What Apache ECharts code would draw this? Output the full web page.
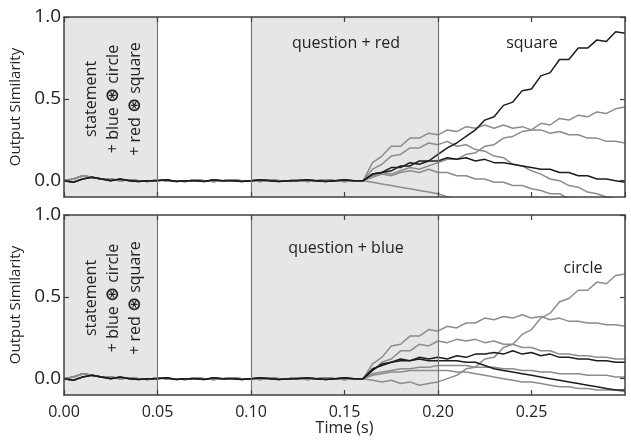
<!DOCTYPE html>
<html>
<head>
<meta charset="utf-8">
<script src="https://cdn.jsdelivr.net/npm/echarts@6/dist/echarts.min.js"></script>
<style>
  html, body { margin: 0; padding: 0; background: #fff; }
  #chart { width: 631px; height: 442px; }
</style>
</head>
<body>
<div id="chart"></div>
<script>
// time samples (s)
const times = [
  0.000, 0.005, 0.010, 0.015, 0.020, 0.025, 0.030, 0.035, 0.040, 0.045,
  0.050, 0.055, 0.060, 0.065, 0.070, 0.075, 0.080, 0.085, 0.090, 0.095,
  0.100, 0.105, 0.110, 0.115, 0.120, 0.125, 0.130, 0.135, 0.140, 0.145,
  0.150, 0.155,
  0.160, 0.165, 0.170, 0.175, 0.180, 0.185, 0.190, 0.195, 0.200, 0.205,
  0.210, 0.215, 0.220, 0.225, 0.230, 0.235, 0.240, 0.245, 0.250, 0.255,
  0.260, 0.265, 0.270, 0.275, 0.280, 0.285, 0.290, 0.295, 0.300
];

// quiet phase before the question (0 - 0.155 s)
const quietBlack = [0.00, -0.01, 0.01, 0.02, 0.01, 0.00, 0.01, 0.00, -0.005, 0.00,
  0.00, 0.005, -0.005, 0.00, 0.00, -0.005, 0.005, 0.00, 0.00, -0.005,
  0.00, 0.005, 0.00, -0.005, 0.00, 0.00, 0.005, 0.00, -0.005, 0.00, 0.005, 0.00];
const quietGray = [0.00, 0.01, 0.03, 0.02, 0.01, 0.01, 0.00, 0.005, 0.00, -0.005,
  0.005, 0.00, 0.00, -0.005, 0.005, 0.00, -0.005, 0.00, 0.005, 0.00,
  0.00, -0.005, 0.005, 0.00, 0.00, 0.005, -0.005, 0.00, 0.005, 0.00, -0.005, 0.00];

// top panel (question + red), 0.160 - 0.300 s
const redSquare = [0.00, 0.04, 0.05, 0.06, 0.09, 0.09, 0.12, 0.12, 0.16, 0.20, 0.23, 0.27, 0.31, 0.37,
  0.39, 0.46, 0.48, 0.55, 0.56, 0.64, 0.66, 0.74, 0.74, 0.81, 0.81, 0.86, 0.85, 0.91, 0.90];
const redBlackB = [0.00, 0.04, 0.05, 0.08, 0.08, 0.11, 0.10, 0.12, 0.12, 0.14, 0.13, 0.14, 0.12, 0.13,
  0.11, 0.11, 0.10, 0.09, 0.08, 0.07, 0.07, 0.05, 0.05, 0.03, 0.03, 0.01, 0.01, 0.00, -0.01];
const redGrayRise = [0.00, 0.03, 0.05, 0.04, 0.06, 0.08, 0.07, 0.09, 0.11, 0.13, 0.13, 0.16, 0.17, 0.21,
  0.22, 0.26, 0.27, 0.30, 0.31, 0.35, 0.34, 0.38, 0.37, 0.40, 0.39, 0.42, 0.41, 0.44, 0.45];
const redGrayTop = [0.00, 0.11, 0.15, 0.21, 0.21, 0.26, 0.26, 0.29, 0.28, 0.31, 0.30, 0.33, 0.32, 0.34,
  0.32, 0.34, 0.32, 0.33, 0.31, 0.31, 0.29, 0.30, 0.28, 0.28, 0.26, 0.26, 0.24, 0.24, 0.23];
const redGrayFall = [0.00, 0.07, 0.10, 0.15, 0.16, 0.20, 0.20, 0.23, 0.22, 0.24, 0.21, 0.22, 0.19, 0.18,
  0.15, 0.14, 0.10, 0.09, 0.06, 0.04, 0.01, 0.00, -0.03, -0.04, -0.07, -0.08, -0.10, -0.11, -0.13];
const redGrayLow = [0.00, 0.02, 0.04, 0.03, 0.05, 0.06, 0.05, 0.07, 0.05, 0.05, 0.03, 0.03, 0.01, 0.01,
  -0.01, -0.01, -0.03, -0.03, -0.05, -0.06, -0.08, -0.08, -0.11, -0.12, -0.13, -0.14, -0.15, -0.16, -0.17];
const redGrayDown = [0.00, -0.01, -0.02, -0.03, -0.04, -0.05, -0.06, -0.07, -0.08, -0.10, -0.12, -0.13, -0.14, -0.15,
  -0.16, -0.17, -0.18, -0.19, -0.20, -0.21, -0.22, -0.23, -0.24, -0.25, -0.26, -0.27, -0.28, -0.29, -0.30];

// bottom panel (question + blue), 0.160 - 0.300 s
const blueCircle = [0.00, -0.01, -0.02, -0.01, -0.03, -0.02, -0.04, -0.03, -0.02, 0.00, 0.02, 0.06, 0.07, 0.12,
  0.13, 0.19, 0.21, 0.27, 0.30, 0.37, 0.40, 0.47, 0.49, 0.54, 0.54, 0.59, 0.58, 0.63, 0.64];
const blueGrayTop = [0.00, 0.09, 0.13, 0.20, 0.21, 0.26, 0.26, 0.30, 0.29, 0.32, 0.31, 0.34, 0.34, 0.37,
  0.36, 0.38, 0.37, 0.39, 0.37, 0.38, 0.36, 0.37, 0.35, 0.35, 0.34, 0.34, 0.33, 0.33, 0.32];
const blueGrayMid = [0.00, 0.05, 0.10, 0.12, 0.17, 0.17, 0.21, 0.20, 0.23, 0.22, 0.24, 0.23, 0.24, 0.22,
  0.23, 0.21, 0.21, 0.19, 0.19, 0.17, 0.17, 0.15, 0.15, 0.14, 0.14, 0.13, 0.13, 0.12, 0.12];
const blueBlackA = [0.00, 0.05, 0.09, 0.10, 0.12, 0.11, 0.13, 0.12, 0.13, 0.12, 0.14, 0.13, 0.15, 0.15,
  0.16, 0.15, 0.17, 0.15, 0.16, 0.14, 0.15, 0.13, 0.13, 0.12, 0.12, 0.11, 0.11, 0.10, 0.10];
const blueBlackB = [0.00, 0.06, 0.08, 0.10, 0.11, 0.11, 0.12, 0.11, 0.11, 0.11, 0.11, 0.10, 0.10, 0.08,
  0.06, 0.05, 0.04, 0.03, 0.02, 0.01, 0.00, -0.01, -0.02, -0.03, -0.04, -0.05, -0.06, -0.07, -0.07];
const blueGrayLow = [0.00, 0.03, 0.04, 0.05, 0.06, 0.06, 0.07, 0.07, 0.08, 0.08, 0.08, 0.08, 0.07, 0.07,
  0.07, 0.06, 0.06, 0.05, 0.05, 0.04, 0.04, 0.03, 0.03, 0.03, 0.02, 0.02, 0.02, 0.01, 0.01];
const blueGrayFall = [0.00, 0.02, 0.03, 0.04, 0.04, 0.05, 0.05, 0.05, 0.05, 0.05, 0.04, 0.04, 0.03, 0.02,
  0.01, 0.00, -0.01, -0.02, -0.02, -0.03, -0.04, -0.05, -0.05, -0.06, -0.06, -0.07, -0.07, -0.07, -0.08];

const yTicks = [0, 0.5, 1.0];
const phaseLines = [0.05, 0.1, 0.2];

const BLACK = '#1c1c1c';
const GRAY = '#8c8c8c';
const FRAME = '#404040';
const FONT = '"Open Sans", "DejaVu Sans", sans-serif';

const chart = echarts.init(document.getElementById('chart'));

const toPairs = (quiet, tail) => quiet.concat(tail).map((v, i) => [times[i], v]);

const panels = [
  {
    lines: [
      [redGrayDown, GRAY], [redGrayLow, GRAY], [redGrayFall, GRAY], [redGrayTop, GRAY],
      [redGrayRise, GRAY], [redBlackB, BLACK], [redSquare, BLACK]
    ]
  },
  {
    lines: [
      [blueGrayFall, GRAY], [blueGrayLow, GRAY], [blueGrayMid, GRAY], [blueGrayTop, GRAY],
      [blueCircle, GRAY], [blueBlackB, BLACK], [blueBlackA, BLACK]
    ]
  }
];

const grids = [
  { left: 64, top: 17, width: 561, height: 180 },
  { left: 64, top: 215, width: 561, height: 180 }
];

const xAxes = [];
const yAxes = [];
[0, 1].forEach(gi => {
  ['bottom', 'top'].forEach(pos => {
    const withLabel = gi === 1 && pos === 'bottom';
    xAxes.push({
      type: 'value', gridIndex: gi, position: pos, min: 0, max: 0.3, interval: 0.05, z: 10,
      axisLine: { show: true, onZero: false, lineStyle: { color: FRAME, width: 1.5 } },
      axisTick: { show: true, inside: true, length: 5, lineStyle: { color: FRAME, width: 1.2 } },
      splitLine: { show: false },
      axisLabel: {
        show: withLabel, showMaxLabel: false, margin: 9,
        fontFamily: FONT, fontSize: 16, color: '#222',
        formatter: v => v.toFixed(2)
      },
      name: withLabel ? 'Time (s)' : '',
      nameLocation: 'middle', nameGap: 24,
      nameTextStyle: { fontFamily: FONT, fontSize: 16, color: '#222' }
    });
  });
  ['left', 'right'].forEach(pos => {
    const withLabel = pos === 'left';
    yAxes.push({
      type: 'value', gridIndex: gi, position: pos, min: -0.1, max: 1.0, z: 10,
      axisLine: { show: true, onZero: false, lineStyle: { color: FRAME, width: 1.5 } },
      axisTick: { show: true, inside: true, length: 5, customValues: yTicks, lineStyle: { color: FRAME, width: 1.2 } },
      splitLine: { show: false },
      axisLabel: {
        show: withLabel, customValues: yTicks, margin: 3,
        fontFamily: FONT, fontSize: 19, color: '#222',
        formatter: v => v.toFixed(1)
      },
      name: withLabel ? 'Output Similarity' : '',
      nameLocation: 'middle', nameGap: 40,
      nameTextStyle: { fontFamily: FONT, fontSize: 15, color: '#222' }
    });
  });
});

const series = [];
panels.forEach((p, gi) => {
  // shaded phases and phase boundaries
  series.push({
    type: 'line', xAxisIndex: gi * 2, yAxisIndex: gi * 2, data: [], silent: true,
    markArea: {
      silent: true,
      itemStyle: { color: '#e6e6e6' },
      data: [[{ xAxis: 0 }, { xAxis: 0.05 }], [{ xAxis: 0.1 }, { xAxis: 0.2 }]]
    },
    markLine: {
      silent: true, symbol: 'none', label: { show: false },
      lineStyle: { color: '#777', width: 1.2, type: 'solid' },
      data: phaseLines.map(x => ({ xAxis: x }))
    }
  });
  p.lines.forEach(([tail, color]) => {
    series.push({
      type: 'line', xAxisIndex: gi * 2, yAxisIndex: gi * 2,
      data: toPairs(color === BLACK ? quietBlack : quietGray, tail),
      showSymbol: false, symbol: 'none', clip: true, animation: false,
      lineStyle: { color, width: 1.5 }
    });
  });
});

const annot = (text, x, y, rotate) => ({
  type: 'text', x, y, rotation: rotate ? Math.PI / 2 : 0, z: 100,
  style: {
    text, fill: '#222', font: '16px ' + FONT, textAlign: 'center', textVerticalAlign: 'middle',
    rich: { s: { fontSize: 18, fontWeight: 'bold', fontFamily: '"DejaVu Sans"', fill: '#222' } }
  }
});

const graphic = [];
[[99, 43, 'question + red', 'square', 532, 43], [298, 248, 'question + blue', 'circle', 583, 268]].forEach(
  ([cy, qy, q, word, wx, wy]) => {
    graphic.push(annot('statement', 91, cy, true));
    graphic.push(annot('+ blue {s|⊛} circle', 113, cy, true));
    graphic.push(annot('+ red {s|⊛} square', 135, cy, true));
    graphic.push(annot(q, 346, qy, false));
    graphic.push(annot(word, wx, wy, false));
  }
);

chart.setOption({
  animation: false,
  grid: grids,
  xAxis: xAxes,
  yAxis: yAxes,
  series,
  graphic
});
</script>
</body>
</html>
